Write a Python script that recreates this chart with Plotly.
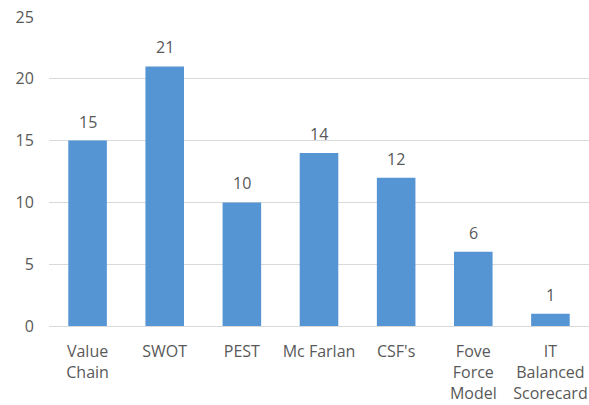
import plotly.graph_objects as go

categories = ["Value<br>Chain", "SWOT", "PEST", "Mc Farlan", "CSF's",
              "Fove<br>Force<br>Model", "IT<br>Balanced<br>Scorecard"]
values = [15, 21, 10, 14, 12, 6, 1]
y_ticks = [0, 5, 10, 15, 20, 25]

grey = "#595959"
font_family = "Open Sans, Liberation Sans, sans-serif"

fig = go.Figure()
fig.add_trace(go.Bar(
    x=categories, y=values,
    marker=dict(color="#5595d3", line=dict(width=0)),
    width=0.5,
))

for c, v in zip(categories, values):
    fig.add_annotation(x=c, y=v, text=str(v), showarrow=False,
                       yanchor="bottom", yshift=6,
                       font=dict(size=16, color=grey, family=font_family))

fig.update_layout(
    width=589, height=405,
    margin=dict(l=49, r=0, t=17, b=79, autoexpand=False),
    paper_bgcolor="white", plot_bgcolor="white",
    showlegend=False,
    font=dict(family=font_family, size=16, color=grey),
    xaxis=dict(showgrid=False, showline=True, linecolor="#d9d9d9", linewidth=1,
               automargin=False,
               ticks="outside", ticklen=11, tickcolor="rgba(0,0,0,0)",
               tickfont=dict(size=16, color=grey, family=font_family)),
    yaxis=dict(range=[0, 25], tickvals=y_ticks, showgrid=True,
               automargin=False,
               gridcolor="#d9d9d9", gridwidth=1, zeroline=False,
               showline=False, ticks="outside", ticklen=11,
               tickcolor="rgba(0,0,0,0)",
               tickfont=dict(size=16, color=grey, family=font_family)),
)

fig.write_html("out.html",
               config={"displayModeBar": False},
               post_script="document.body.style.margin='0';document.body.style.padding='0';")
